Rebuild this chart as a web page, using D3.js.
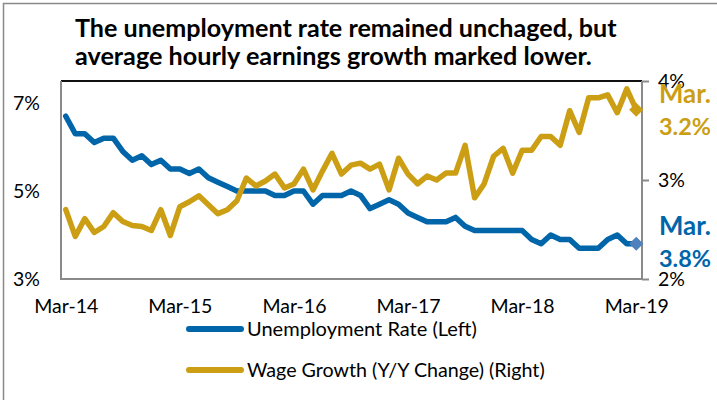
<!DOCTYPE html>
<html>
<head>
<meta charset="utf-8">
<script src="https://cdn.jsdelivr.net/npm/d3@7"></script>
<style>
  body { margin: 0; background: #fff; }
  svg { display: block; }
  text { font-family: Lato, "Noto Sans", sans-serif; fill: #000; }
</style>
</head>
<body>
<svg id="chart" width="717" height="400"></svg>
<script>
// monthly categories Mar-14 .. Mar-19
const months = d3.timeMonth
  .range(new Date(2014, 2, 1), new Date(2019, 3, 1))
  .map(d3.timeFormat("%b-%y"));
const xTicks = ["Mar-14", "Mar-15", "Mar-16", "Mar-17", "Mar-18", "Mar-19"];

// unemployment rate, % (left axis)
const unemployment = [
  6.7, 6.3, 6.3, 6.1, 6.2, 6.2, 5.9, 5.7, 5.8, 5.6, 5.7, 5.5,
  5.5, 5.4, 5.5, 5.3, 5.2, 5.1, 5.0, 5.0, 5.0, 5.0, 4.9, 4.9,
  5.0, 5.0, 4.7, 4.9, 4.9, 4.9, 5.0, 4.9, 4.6, 4.7, 4.8, 4.7,
  4.5, 4.4, 4.3, 4.3, 4.3, 4.4, 4.2, 4.1, 4.1, 4.1, 4.1, 4.1,
  4.1, 3.9, 3.8, 4.0, 3.9, 3.9, 3.7, 3.7, 3.7, 3.9, 4.0, 3.8,
  3.8
];

// wage growth y/y, % (right axis)
const wageGrowth = [
  2.70, 2.43, 2.61, 2.47, 2.53, 2.67, 2.58, 2.54, 2.53, 2.49, 2.70, 2.44,
  2.73, 2.78, 2.84, 2.75, 2.66, 2.70, 2.79, 3.02, 2.94, 2.99, 3.06, 2.92,
  2.96, 3.11, 2.90, 3.09, 3.27, 3.06, 3.15, 3.17, 3.11, 3.16, 2.90, 3.22,
  3.06, 2.96, 3.04, 3.00, 3.07, 3.07, 3.35, 2.82, 2.96, 3.24, 3.32, 3.07,
  3.30, 3.30, 3.44, 3.44, 3.35, 3.70, 3.48, 3.83, 3.83, 3.86, 3.68, 3.92,
  3.71
];

const leftTicks = [3, 5, 7];
const rightTicks = [2, 3, 4];
const titleLines = [
  "The unemployment rate remained unchaged, but",
  "average hourly earnings growth marked lower."
];
const legendItems = ["Unemployment Rate (Left)", "Wage Growth (Y/Y Change) (Right)"];
const endLabels = { wage: ["Mar.", "3.2%"], unemployment: ["Mar.", "3.8%"] };

const BLUE = "#0065A9";
const GOLD = "#CB9E14";
const GRID = "#8a8a8a";

const svg = d3.select("#chart");
const plot = { left: 61, right: 641, top: 81, bottom: 279 };

// shrink/grow a text node so it takes a given width
const fitWidth = (sel, w) => {
  const len = sel.node().getComputedTextLength();
  const fs = parseFloat(sel.attr("font-size"));
  sel.attr("font-size", (fs * w) / len);
};

// outer frame
svg.append("rect")
  .attr("x", 3.5).attr("y", 3.5)
  .attr("width", 730).attr("height", 420)
  .attr("fill", "none")
  .attr("stroke", GRID)
  .attr("stroke-width", 1.5);

// title
titleLines.forEach((t, i) => {
  const txt = svg.append("text")
    .attr("x", 75)
    .attr("y", 37 + i * 28)
    .attr("font-size", 25)
    .attr("font-weight", "bold")
    .text(t);
  fitWidth(txt, i === 0 ? 542 : 517);
});

const x = d3.scalePoint()
  .domain(months)
  .range([plot.left, plot.right])
  .padding(0.5);

const yLeft = d3.scaleLinear().domain([3, 7.5]).range([plot.bottom, plot.top]);
const yRight = d3.scaleLinear().domain([2, 4]).range([plot.bottom, plot.top]);

// plot frame
svg.append("line")
  .attr("x1", plot.left).attr("x2", plot.right + 1)
  .attr("y1", plot.top).attr("y2", plot.top)
  .attr("stroke", "#111").attr("stroke-width", 2);
svg.append("line")
  .attr("x1", plot.left).attr("x2", plot.left)
  .attr("y1", plot.top).attr("y2", plot.bottom + 1)
  .attr("stroke", GRID).attr("stroke-width", 2);
svg.append("line")
  .attr("x1", plot.left).attr("x2", plot.right + 1)
  .attr("y1", plot.bottom).attr("y2", plot.bottom)
  .attr("stroke", GRID).attr("stroke-width", 2);

// left axis: labels only
const gLeft = svg.append("g")
  .attr("transform", `translate(${plot.left},0)`)
  .call(d3.axisLeft(yLeft).tickValues(leftTicks).tickSize(0).tickPadding(21)
    .tickFormat((d) => d + "%"));
gLeft.select(".domain").remove();

// right axis with outward ticks
const gRight = svg.append("g")
  .attr("transform", `translate(${plot.right + 1},0)`)
  .call(d3.axisRight(yRight).tickValues(rightTicks).tickSize(7).tickPadding(9)
    .tickFormat((d) => d + "%"));
gRight.select(".domain").attr("stroke", GRID).attr("stroke-width", 2)
  .attr("d", `M0,${plot.top}V${plot.bottom + 1}`);
gRight.selectAll(".tick line").attr("stroke", GRID).attr("stroke-width", 2);

// bottom axis: labels only
const gBottom = svg.append("g")
  .attr("transform", `translate(0,${plot.bottom})`)
  .call(d3.axisBottom(x).tickValues(xTicks).tickSize(0).tickPadding(20));
gBottom.select(".domain").remove();

svg.selectAll(".tick text")
  .attr("font-family", "Lato, 'Noto Sans', sans-serif")
  .attr("font-size", 19.5)
  .attr("fill", "#000");

// series
const idx = d3.range(months.length);
const lineLeft = d3.line().x((i) => x(months[i])).y((i) => yLeft(unemployment[i]));
const lineRight = d3.line().x((i) => x(months[i])).y((i) => yRight(wageGrowth[i]));

svg.append("path")
  .attr("d", lineLeft(idx))
  .attr("fill", "none")
  .attr("stroke", BLUE)
  .attr("stroke-width", 5.5)
  .attr("stroke-linejoin", "round")
  .attr("stroke-linecap", "round");

svg.append("path")
  .attr("d", lineRight(idx))
  .attr("fill", "none")
  .attr("stroke", GOLD)
  .attr("stroke-width", 5.5)
  .attr("stroke-linejoin", "round")
  .attr("stroke-linecap", "round");

// end markers (diamonds)
const last = months.length - 1;
const diamond = d3.symbol().type(d3.symbolSquare).size(100);
svg.append("path")
  .attr("d", diamond())
  .attr("fill", "#4F81BD")
  .attr("transform", `translate(${x(months[last])},${yLeft(unemployment[last])}) rotate(45)`);
svg.append("path")
  .attr("d", diamond())
  .attr("fill", GOLD)
  .attr("transform", `translate(${x(months[last])},${yRight(wageGrowth[last])}) rotate(45)`);

// end labels
const addEnd = (lines, color, y0) => {
  lines.forEach((t, i) => {
    const txt = svg.append("text")
      .attr("x", 659)
      .attr("y", y0 + i * 32)
      .attr("font-size", 24)
      .attr("font-weight", "bold")
      .attr("fill", color)
      .style("fill", color)
      .text(t);
    fitWidth(txt, 52);
  });
};
addEnd(endLabels.wage, GOLD, 103);
addEnd(endLabels.unemployment, BLUE, 235);

// legend
const legend = svg.append("g");
[BLUE, GOLD].forEach((c, i) => {
  const y = 329 + i * 41;
  legend.append("line")
    .attr("x1", 189).attr("x2", 241)
    .attr("y1", y).attr("y2", y)
    .attr("stroke", c)
    .attr("stroke-width", 6)
    .attr("stroke-linecap", "round");
  const txt = legend.append("text")
    .attr("x", 247)
    .attr("y", y + 7)
    .attr("font-size", 20)
    .text(legendItems[i]);
  fitWidth(txt, i === 0 ? 230 : 298);
});
</script>
</body>
</html>
